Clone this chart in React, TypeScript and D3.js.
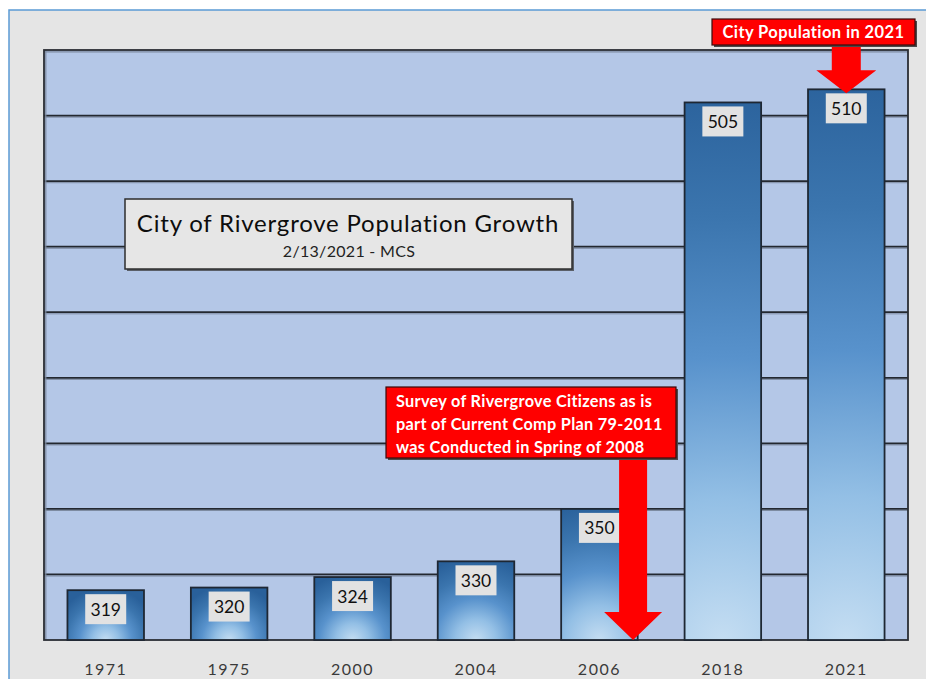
import React from "react";
import * as d3 from "d3";

// chart data
const years = ["1971", "1975", "2000", "2004", "2006", "2018", "2021"];
const population = [319, 320, 324, 330, 350, 505, 510];
const yTicks = [300, 325, 350, 375, 400, 425, 450, 475, 500, 525];

const titleText = "City of Rivergrove Population Growth";
const subtitleText = "2/13/2021 - MCS";
const noteTop = "City Population in 2021";
const noteSurvey = [
  "Survey of Rivergrove Citizens as is",
  "part of Current Comp Plan 79-2011",
  "was Conducted in Spring of 2008",
];

const W = 926;
const H = 679;
const plot = { left: 44, right: 908, top: 50, bottom: 640 };
const font = "Lato, 'Open Sans', sans-serif";

// down arrow polygon, tip at (cx, yTip)
const arrowPath = (cx, yTop, yTip, shaftW, headW, headH) => {
  const yh = yTip - headH;
  return `M${cx - shaftW / 2},${yTop} L${cx + shaftW / 2},${yTop} L${cx + shaftW / 2},${yh}
    L${cx + headW / 2},${yh} L${cx},${yTip} L${cx - headW / 2},${yh} L${cx - shaftW / 2},${yh} Z`;
};

const App = () => {
  const x = d3
    .scaleBand()
    .domain(years)
    .range([plot.left, plot.right])
    .paddingInner(0.38)
    .paddingOuter(0.19);

  const y = d3
    .scaleLinear()
    .domain([300, 525])
    .range([plot.bottom, plot.top]);

  const bw = x.bandwidth();
  const data = years.map((yr, i) => ({ year: yr, value: population[i] }));

  const last = data[data.length - 1];
  const arrow1X = x(last.year) + bw / 2;
  const arrow2X = x("2006") + bw * 0.94;

  return (
    <svg
      width={W}
      height={H}
      style={{ position: "absolute", left: 0, top: 0, display: "block" }}
    >
      <defs>
        {data.map((d, i) => {
          const h = y(300) - y(d.value);
          return (
            <radialGradient
              key={d.year}
              id={`barGrad${i}`}
              gradientUnits="userSpaceOnUse"
              cx={x(d.year) + bw / 2}
              cy={y(300)}
              r={h * 1.05}
            >
              <stop offset="0" stopColor="#c4ddf2" />
              <stop offset="0.25" stopColor="#93bfe5" />
              <stop offset="0.5" stopColor="#5892cc" />
              <stop offset="0.75" stopColor="#3b75ae" />
              <stop offset="1" stopColor="#29609a" />
            </radialGradient>
          );
        })}
      </defs>

      {/* outer frame */}
      <rect x={0} y={0} width={W} height={H} fill="#ffffff" />
      <rect x={9} y={10} width={W + 20} height={H + 20} fill="#e5e5e5" stroke="#5b9bd5" strokeWidth={1.5} />

      {/* plot area */}
      <rect
        x={plot.left}
        y={plot.top}
        width={plot.right - plot.left}
        height={plot.bottom - plot.top}
        fill="#b4c7e7"
      />

      {/* gridlines */}
      {yTicks.slice(1, -1).map((t) => (
        <g key={t}>
          <line x1={plot.left} x2={plot.right} y1={y(t) + 1.6} y2={y(t) + 1.6} stroke="#7d8aa0" strokeWidth={1} />
          <line x1={plot.left} x2={plot.right} y1={y(t)} y2={y(t)} stroke="#232830" strokeWidth={1.8} />
        </g>
      ))}

      {/* plot border */}
      <line x1={plot.left + 1.8} x2={plot.left + 1.8} y1={plot.top} y2={plot.bottom} stroke="#7d8aa0" strokeWidth={1.2} />
      <line x1={plot.left} x2={plot.right} y1={plot.top + 1.8} y2={plot.top + 1.8} stroke="#7d8aa0" strokeWidth={1.2} />
      <rect
        x={plot.left}
        y={plot.top}
        width={plot.right - plot.left}
        height={plot.bottom - plot.top}
        fill="none"
        stroke="#2a2d33"
        strokeWidth={1.8}
      />

      {/* bars */}
      {data.map((d, i) => (
        <rect
          key={d.year}
          x={x(d.year)}
          y={y(d.value)}
          width={bw}
          height={y(300) - y(d.value)}
          fill={`url(#barGrad${i})`}
          stroke="#1e2733"
          strokeWidth={1.8}
        />
      ))}

      {/* value labels */}
      {data.map((d) => (
        <g key={d.year}>
          <rect
            x={x(d.year) + bw / 2 - 20.5}
            y={y(d.value) + 4}
            width={41}
            height={30}
            fill="#e2e2e2"
          />
          <text
            x={x(d.year) + bw / 2}
            y={y(d.value) + 25.5}
            textAnchor="middle"
            fontFamily={font}
            fontSize={17.5}
            fill="#101010"
          >
            {d.value}
          </text>
        </g>
      ))}

      {/* x axis labels */}
      {years.map((yr) => (
        <text
          key={yr}
          x={x(yr) + bw / 2}
          y={675}
          textAnchor="middle"
          fontFamily={font}
          fontSize={16}
          letterSpacing={1.5}
          fill="#3a3a3a"
        >
          {yr}
        </text>
      ))}

      {/* title box */}
      <rect x={127} y={201} width={447} height={70} fill="#5a5f68" />
      <rect x={125} y={199} width={447} height={70} fill="#e6e6e6" stroke="#2e2e2e" strokeWidth={1.5} />
      <text x={348} y={232} textAnchor="middle" fontFamily={font} fontSize={24} letterSpacing={0.8} fill="#0d0d0d">
        {titleText}
      </text>
      <text x={349} y={257} textAnchor="middle" fontFamily={font} fontSize={16} letterSpacing={0.3} fill="#222222">
        {subtitleText}
      </text>

      {/* annotation: 2021 */}
      <path d={arrowPath(arrow1X, 45, y(last.value) + 4, 29, 60, 23)} fill="#ff0000" />
      <rect x={714} y={21} width={203} height={26} fill="#4a4a4a" />
      <rect x={712} y={19} width={203} height={26} fill="#ff0000" stroke="#3a0a0a" strokeWidth={1.2} />
      <text x={813.5} y={38} textAnchor="middle" fontFamily={font} fontWeight="bold" fontSize={16.5} letterSpacing={0.4} fill="#ffffff">
        {noteTop}
      </text>

      {/* annotation: survey */}
      <path d={arrowPath(arrow2X, 458, y(300), 28, 58, 28)} fill="#ff0000" />
      <rect x={388} y={389} width={290} height={71} fill="#4a4a4a" />
      <rect x={386} y={387} width={290} height={71} fill="#ff0000" stroke="#3a0a0a" strokeWidth={1.2} />
      {noteSurvey.map((line, i) => (
        <text
          key={line}
          x={396}
          y={407 + i * 23}
          fontFamily={font}
          fontWeight="bold"
          fontSize={16.3}
          letterSpacing={0.3}
          fill="#ffffff"
        >
          {line}
        </text>
      ))}
    </svg>
  );
};

export default App;
